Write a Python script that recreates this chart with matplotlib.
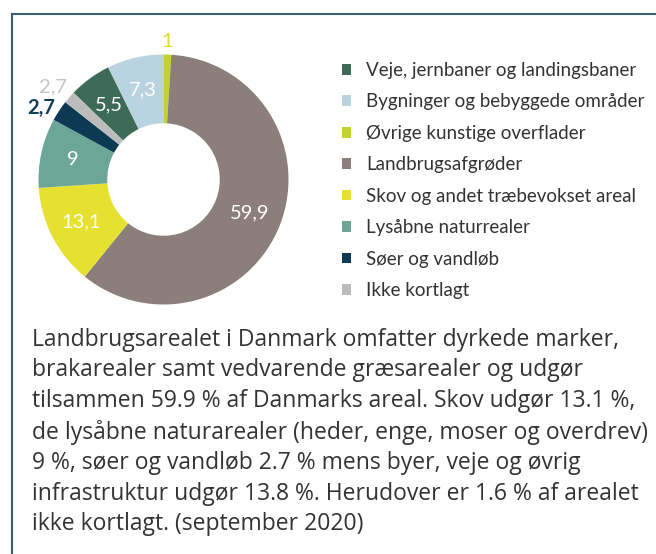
import matplotlib.pyplot as plt
from matplotlib.lines import Line2D
import numpy as np

W, H = 656, 554

categories = ["Veje, jernbaner og landingsbaner",
              "Bygninger og bebyggede områder",
              "Øvrige kunstige overflader",
              "Landbrugsafgrøder",
              "Skov og andet træbevokset areal",
              "Lysåbne naturrealer",
              "Søer og vandløb",
              "Ikke kortlagt"]
values = [5.5, 7.3, 1.0, 59.9, 13.1, 9.0, 2.7, 1.6]
value_labels = ["5,5", "7,3", "1", "59,9", "13,1", "9", "2,7", "2,7"]
colors = ["#3e6a58", "#bad3e0", "#c3d22f", "#8c7f7b",
          "#e6e130", "#6ba696", "#0b3a52", "#bcbcbc"]
# labels for the thin slices sit outside the ring: colour, radius, ha, va
outside = {2: ("#e0dc36", 1.04, "center", "bottom"),
           6: ("#123f5c", 1.04, "right", "center"),
           7: ("#c4c4c4", 1.03, "right", "bottom")}

caption = ("Landbrugsarealet i Danmark omfatter dyrkede marker,\n"
           "brakarealer samt vedvarende græsarealer og udgør\n"
           "tilsammen 59.9 % af Danmarks areal. Skov udgør 13.1 %,\n"
           "de lysåbne naturarealer (heder, enge, moser og overdrev)\n"
           "9 %, søer og vandløb 2.7 % mens byer, veje og øvrig\n"
           "infrastruktur udgør 13.8 %. Herudover er 1.6 % af arealet\n"
           "ikke kortlagt. (september 2020)")

fig = plt.figure(figsize=(W / 100, H / 100), dpi=100)

# donut
cx, cy, r = 163.5, 179.5, 125
ax = fig.add_axes([(cx - r) / W, (H - cy - r) / H, 2 * r / W, 2 * r / H])
start = 90 + (values[0] + values[1]) / sum(values) * 360
wedges, _ = ax.pie(values, colors=colors, startangle=start, counterclock=False,
                   radius=1.0, wedgeprops=dict(width=0.55, linewidth=0))
ax.set_xlim(-1, 1)
ax.set_ylim(-1, 1)
ax.set_aspect("equal")
ax.axis("off")

for i, w in enumerate(wedges):
    ang = np.deg2rad((w.theta1 + w.theta2) / 2)
    if i in outside:
        col, rr, ha, va = outside[i]
        fw = "bold" if i == 6 else "normal"
    else:
        col, rr, ha, va = "white", 0.74, "center", "center"
        fw = "normal"
    ax.text(rr * np.cos(ang), rr * np.sin(ang), value_labels[i], color=col,
            fontsize=14.5, family="Lato", fontweight=fw, ha=ha, va=va,
            clip_on=False)

# legend
fig.legend(wedges, categories, loc="upper left",
           bbox_to_anchor=(342 / W, 1 - 62 / H), frameon=False,
           prop=dict(family="Lato", size=13.5), labelcolor="#333333",
           handlelength=0.5, handleheight=0.5, handletextpad=0.8,
           labelspacing=0.77, borderpad=0, borderaxespad=0)

# caption
fig.text(32 / W, 1 - 328 / H, caption, ha="left", va="top", family="Open Sans",
         fontsize=16.5, color="#333333", linespacing=1.36)

# frame lines
fig.add_artist(Line2D([12 / W, 1], [1 - 13.5 / H, 1 - 13.5 / H], color="#3e5f71",
                      linewidth=1.5, transform=fig.transFigure))
fig.add_artist(Line2D([12 / W, 12 / W], [0, 1 - 13.5 / H], color="#3e5f71",
                      linewidth=1.5, transform=fig.transFigure))

fig.savefig("out.png", dpi=100)
